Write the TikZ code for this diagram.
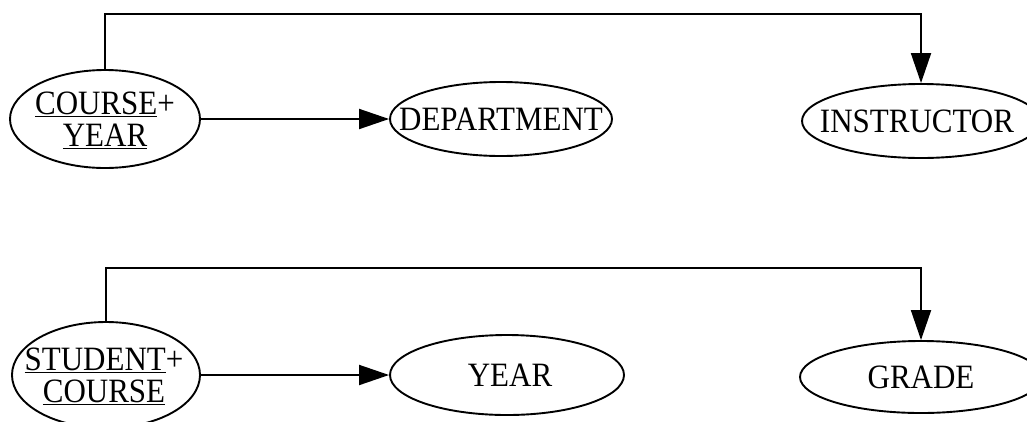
\documentclass[tikz,border=0pt]{standalone}
\usepackage{fontspec}
\setmainfont{Liberation Serif}
\usetikzlibrary{shapes.geometric,arrows.meta}
\tikzset{
  ent/.style={ellipse, draw, line width=1.9pt, inner sep=0pt},
  txt/.style={inner sep=0pt, font=\fontsize{31}{29}\selectfont, align=center},
  link/.style={line width=1.9pt, -{Triangle[length=30pt,width=20pt]}}
}
\newcommand{\tall}[1]{\scalebox{1}[1.1]{#1}}
\begin{document}
\begin{tikzpicture}[x=1pt,y=-1pt]
  \useasboundingbox (0,0) rectangle (1027,421);
  % first dependency group
  \node[ent, minimum width=190pt, minimum height=98pt] (cy) at (105,119) {};
  \node[txt] (cy-t) at ([yshift=-1pt]cy.center)
    {\tall{\underline{COURSE}+}\\[3pt]\tall{\underline{YEAR}}};
  \node[ent, minimum width=222pt, minimum height=74pt] (dep) at (501,119) {};
  \node[txt] (dep-t) at (dep.center) {\tall{DEPARTMENT}};
  \node[ent, minimum width=238pt, minimum height=74pt] (ins) at (921,121) {};
  \node[txt] (ins-t) at ([xshift=-4pt]ins.center) {\tall{INSTRUCTOR}};
  \draw[link] (cy.east) -- (dep.west);
  \draw[link] (cy.north) -- (cy.north |- 0,14) -| (ins.north);
  % second dependency group
  \node[ent, minimum width=188pt, minimum height=106pt] (sc) at (106,375) {};
  \node[txt] (sc-t) at ([xshift=-2pt,yshift=-1pt]sc.center)
    {\tall{\underline{STUDENT}+}\\[3pt]\tall{\underline{COURSE}}};
  \node[ent, minimum width=234pt, minimum height=80pt] (yr) at (507,375) {};
  \node[txt] (yr-t) at ([xshift=3pt]yr.center) {\tall{YEAR}};
  \node[ent, minimum width=242pt, minimum height=72pt] (gr) at (921,377) {};
  \node[txt] (gr-t) at (gr.center) {\tall{GRADE}};
  \draw[link] (sc.east) -- (yr.west);
  \draw[link] (sc.north) -- (sc.north |- 0,268) -| (gr.north);
\end{tikzpicture}
\end{document}
